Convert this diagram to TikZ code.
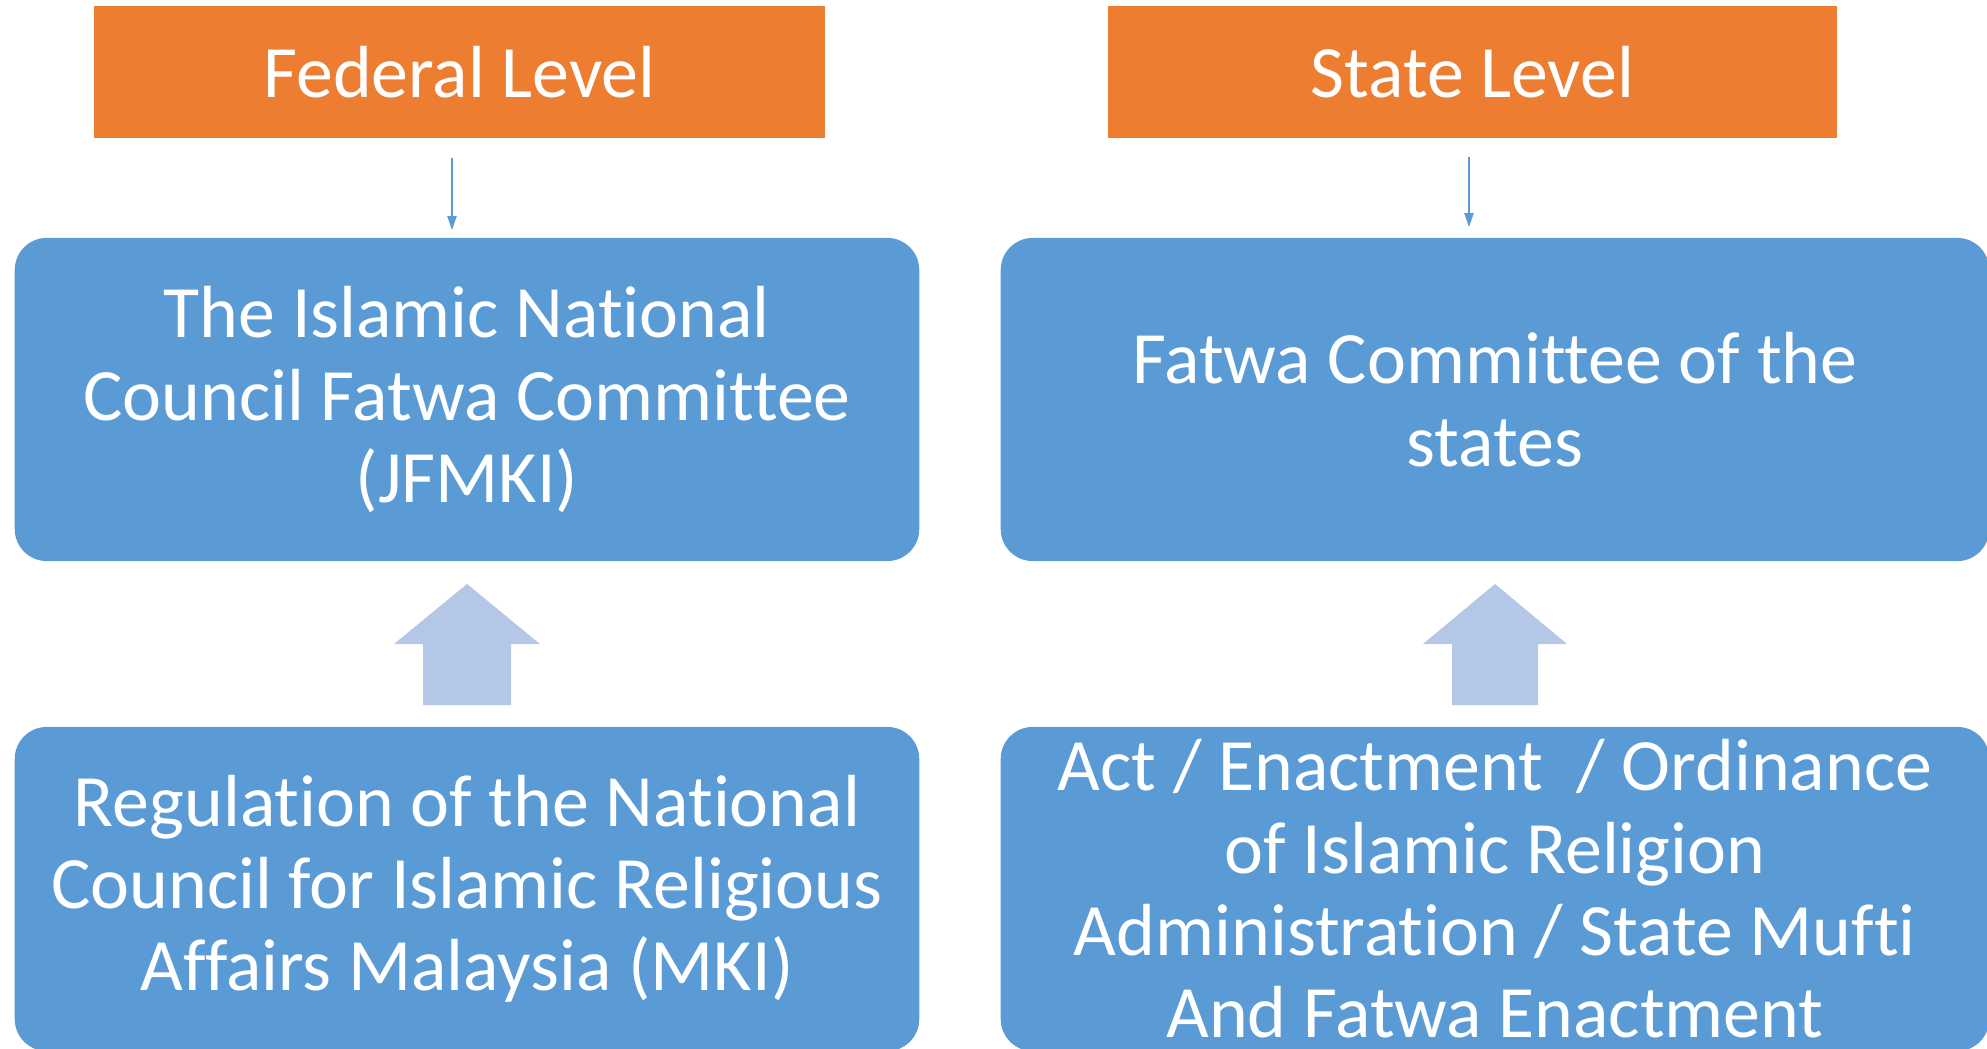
\documentclass[tikz,border=0pt]{standalone}
\usepackage{fontspec}
\setmainfont{Carlito}[Ligatures={NoCommon}]
\usepackage{tikz}
\usetikzlibrary{arrows.meta}

\definecolor{levelorange}{HTML}{ED7D31}
\definecolor{boxblue}{HTML}{5B9BD5}
\definecolor{liftblue}{HTML}{B4C7E7}

\begin{document}
\begin{tikzpicture}[x=0.01cm,y=-0.01cm,
        level/.style={shape=rectangle,fill=levelorange,text=white,minimum height=1.31cm,
                font=\fontsize{21}{23.4}\selectfont},
        body/.style={shape=rectangle,rounded corners=0.32cm,fill=boxblue,text=white,align=center,
                font=\fontsize{21}{23.4}\selectfont},
        thinarrow/.style={-{Triangle[length=0.14cm,width=0.09cm]},draw=boxblue,line width=0.6pt},
        lift/.style={fill=liftblue}]
        \useasboundingbox (0,0) rectangle (1987,1048);
        \clip (0,0) rectangle (1987,1048);
        \node[level,minimum width=7.31cm] (fed) at (459.5,72) {Federal Level};
        \node[level,minimum width=7.29cm] (state) at (1472.5,72) {State Level};
        \node[body,minimum width=9.04cm,minimum height=3.23cm] (jfmki) at (467,399.5) {The Islamic National\\Council Fatwa Committee\\(JFMKI)};
        \node[body,minimum width=9.88cm,minimum height=3.23cm] (fatwa) at (1495,399.5) {Fatwa Committee of the\\states};
        \node[body,minimum width=9.04cm,minimum height=3.24cm] (mki) at (467,889) {Regulation of the National\\Council for Islamic Religious\\Affairs Malaysia (MKI)};
        \node[body,minimum width=9.88cm,minimum height=3.24cm] (act) at (1495,889) {Act / Enactment\ \ / Ordinance\\of Islamic Religion\\Administration / State Mufti\\And Fatwa Enactment};
        \coordinate (fedout) at (452,158);
        \coordinate (stateout) at (1469,157);
        \draw [thinarrow,shorten >=0.07cm] (fedout) -- (fedout |- jfmki.north);
        \draw [thinarrow,shorten >=0.10cm] (stateout) -- (stateout |- fatwa.north);
        \coordinate (fedtip) at (467,584);
        \coordinate (statetip) at (1495,584);
        \fill[lift] (fedtip) -- ++(73,60) -- ++(-29,0) -- ++(0,61) -- ++(-88,0) -- ++(0,-61) -- ++(-29,0) -- cycle;
        \fill[lift] (statetip) -- ++(72,60) -- ++(-29,0) -- ++(0,61) -- ++(-86,0) -- ++(0,-61) -- ++(-29,0) -- cycle;
    \end{tikzpicture}
\end{document}
